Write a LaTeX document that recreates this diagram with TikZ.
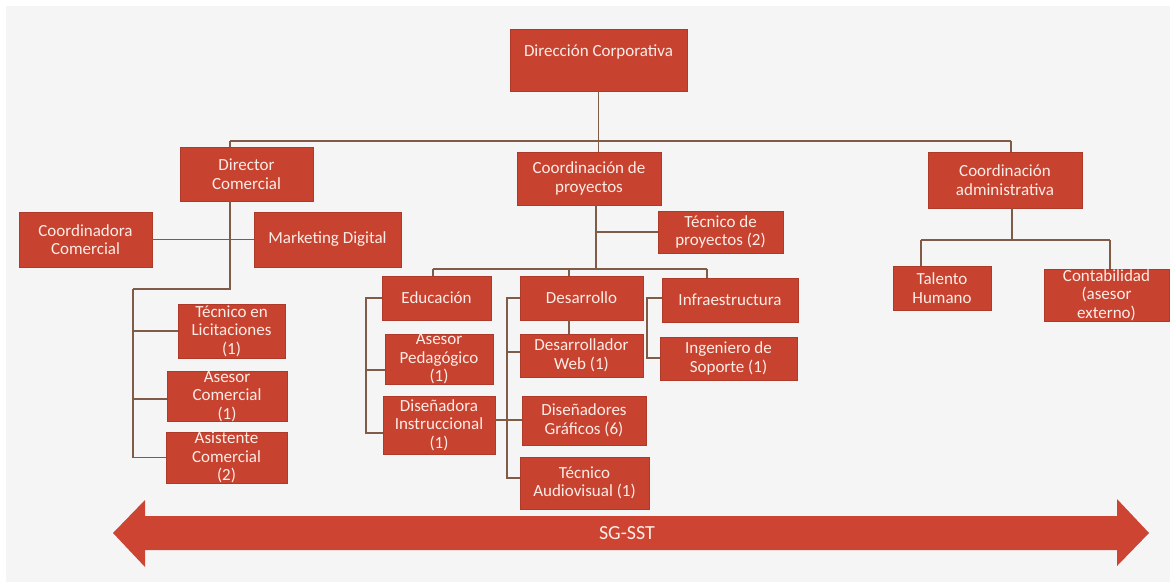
\documentclass[tikz,border=0pt]{standalone}
\usepackage{fontspec}
\setmainfont{Carlito}
\definecolor{boxred}{RGB}{200,66,48}
\definecolor{boxtext}{RGB}{252,236,230}
\definecolor{linkbrown}{RGB}{128,92,72}
\definecolor{paper}{RGB}{245,245,246}
\definecolor{arrowred}{RGB}{205,68,50}

\tikzset{
  orgbox/.style={rectangle, fill=boxred, draw=boxred!88!black, line width=0.5pt,
    inner sep=0pt, align=center, text=boxtext, font=\fontsize{17}{18.5}\selectfont},
  link/.style={draw=linkbrown, line width=1.2pt},
}
% \unitbox{name}{left}{top}{right}{bottom}{text}
\newcommand\unitbox[6]{\node[orgbox, minimum width={(#4-#2)*1pt}, minimum height={(#5-#3)*1pt}]
  (#1) at ({(#2+#4)/2},{(#3+#5)/2}) {#6};}

\begin{document}
\begin{tikzpicture}[x=1pt, y=-1pt]
\useasboundingbox (0,0) rectangle (1170,582);
\fill[white] (0,0) rectangle (1170,582);
\fill[paper] (6,6) rectangle (1170,582);

% top level
\unitbox{dir}{510}{29}{687}{91}{Dirección Corporativa\\\mbox{}}
\unitbox{dc}{180}{147}{313}{201}{Director\\Comercial}
\unitbox{cp}{517}{152}{661}{205}{Coordinación de\\proyectos}
\unitbox{ca}{928}{152}{1082}{208}{Coordinación\\administrativa}

% commercial area
\unitbox{coc}{19}{212}{152}{267}{Coordinadora\\Comercial}
\unitbox{mkt}{254}{212}{401}{267}{Marketing Digital}
\unitbox{tecl}{178}{304}{285}{358}{Técnico en\\Licitaciones\\(1)}
\unitbox{asc}{167}{372}{287}{421}{Asesor\\Comercial\\(1)}
\unitbox{asis}{166}{433}{287}{482}{Asistente\\Comercial\\(2)}

% projects area
\unitbox{tp}{658}{211}{783}{253}{Técnico de\\proyectos (2)}
\unitbox{edu}{382}{276}{491}{320}{Educación}
\unitbox{ped}{385}{334}{493}{384}{Asesor\\Pedagógico\\(1)}
\unitbox{dis}{383}{396}{495}{454}{Diseñadora\\Instruccional\\(1)}
\unitbox{des}{520}{276}{643}{320}{Desarrollo}
\unitbox{dweb}{520}{334}{643}{377}{Desarrollador\\Web (1)}
\unitbox{dg}{522}{396}{646}{445}{Diseñadores\\Gráficos (6)}
\unitbox{tav}{520}{457}{649}{509}{Técnico\\Audiovisual (1)}
\unitbox{inf}{662}{278}{798}{322}{Infraestructura}
\unitbox{ing}{660}{337}{797}{380}{Ingeniero de\\Soporte (1)}

% administration area
\unitbox{th}{893}{266}{991}{310}{Talento\\Humano}
\unitbox{cont}{1044}{269}{1169}{321}{Contabilidad\\(asesor\\externo)}

% junction points
\coordinate (busL) at (230,141);
\coordinate (busR) at (1011,141);
\coordinate (dcj) at (230,289);
\coordinate (lc) at (133,289);
\coordinate (cpt) at (596,269);
\coordinate (b1) at (433,269);
\coordinate (b2) at (569,269);
\coordinate (b3) at (707,269);
\coordinate (eb) at (366,298);
\coordinate (db) at (507,298);
\coordinate (ib) at (647,298);
\coordinate (caj) at (1012,240);
\coordinate (aL) at (921,240);
\coordinate (aR) at (1110,240);

% main bus
\draw[link] (busL) -- (busR);
\draw[link] (dir.south) -- (dir.south |- cp.north);
\draw[link] (busL) -- (busL |- dc.north);
\draw[link] (busR) -- (busR |- ca.north);

% commercial links
\draw[link] (coc.east) -- (mkt.west);
\draw[link] (dcj |- dc.south) -- (dcj) -- (lc);
\draw[link] (lc) |- (asis.west);
\draw[link] (lc |- tecl.west) -- (tecl.west);
\draw[link] (lc |- 0,399) -- (asc.west |- 0,399);

% projects links
\draw[link] (cpt |- cp.south) -- (cpt);
\draw[link] (cpt |- tp.west) -- (tp.west);
\draw[link] (b1) -- (b3);
\draw[link] (b1) -- (b1 |- edu.north);
\draw[link] (b2) -- (b2 |- des.north);
\draw[link] (b3) -- (b3 |- inf.north);
\draw[link] (edu.west) -- (eb) -- (eb |- 0,433) -- (dis.west |- 0,433);
\draw[link] (eb |- 0,370) -- (ped.west |- 0,370);
\draw[link] (des.west) -- (db) -- (db |- 0,478) -- (tav.west |- 0,478);
\draw[link] (db |- 0,352) -- (dweb.west |- 0,352);
\draw[link] (b2 |- des.south) -- (b2 |- dweb.north);
\draw[link] (dis.east |- 0,420) -- (dg.west |- 0,420);
\draw[link] (inf.west |- ib) -- (ib) -- (ib |- 0,358) -- (ing.west |- 0,358);

% administration links
\draw[link] (caj |- ca.south) -- (caj);
\draw[link] (aL) -- (aR);
\draw[link] (aL) -- (aL |- th.north);
\draw[link] (aR) -- (aR |- cont.north);

% management system band
\fill[arrowred] (113,533) -- (145,500) -- (145,516) -- (1117,516) -- (1117,499)
  -- (1149,533) -- (1117,566) -- (1117,550) -- (145,550) -- (145,567) -- cycle;
\node[text=boxtext, font=\fontsize{20}{24}\selectfont] (sgsst) at (627,533) {SG-SST};
\end{tikzpicture}
\end{document}
